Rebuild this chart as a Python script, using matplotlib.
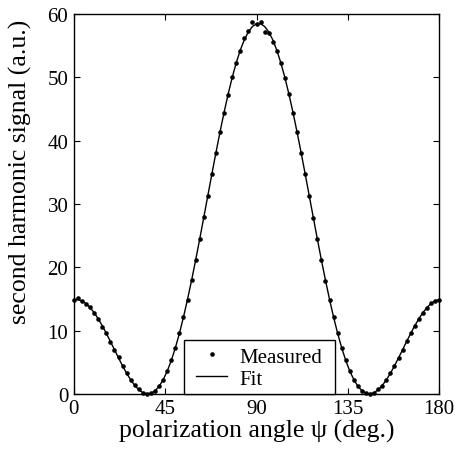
import matplotlib
matplotlib.use("Agg")
import matplotlib.pyplot as plt
from matplotlib.patches import Rectangle

angle_deg = [0, 2, 4, 6, 8, 10, 12, 14, 16, 18, 20, 22, 24, 26, 28, 30, 32, 34, 36, 38,
             40, 42, 44, 46, 48, 50, 52, 54, 56, 58, 60, 62, 64, 66, 68, 70, 72, 74, 76, 78,
             80, 82, 84, 86, 88, 90, 92, 94, 96, 98, 100, 102, 104, 106, 108, 110, 112, 114,
             116, 118, 120, 122, 124, 126, 128, 130, 132, 134, 136, 138, 140, 142, 144, 146,
             148, 150, 152, 154, 156, 158, 160, 162, 164, 166, 168, 170, 172, 174, 176, 178, 180]

measured = [14.9, 15.1, 14.7, 14.2, 13.7, 12.7, 11.9, 10.6, 9.6, 8.2, 7.0, 5.8, 4.4, 3.3,
            2.2, 1.4, 0.7, 0.2, 0.05, 0.1, 0.5, 1.2, 2.2, 3.6, 5.3, 7.2, 9.6, 12.1, 14.9,
            18.0, 21.2, 24.4, 27.9, 31.2, 34.8, 38.0, 41.4, 44.4, 47.2, 50.0, 52.3, 54.1,
            56.2, 57.4, 58.7, 58.4, 58.7, 57.2, 57.0, 55.6, 54.2, 52.2, 49.9, 47.4, 44.4,
            41.3, 38.1, 34.7, 31.3, 27.8, 24.4, 21.2, 17.9, 14.9, 12.1, 9.6, 7.3, 5.3, 3.6,
            2.2, 1.2, 0.5, 0.1, 0.05, 0.2, 0.7, 1.3, 2.2, 3.3, 4.4, 5.7, 7.0, 8.3, 9.6,
            10.8, 11.9, 12.8, 13.6, 14.3, 14.7, 14.9]

fit = [14.90, 14.90, 14.68, 14.26, 13.63, 12.83, 11.86, 10.76, 9.56, 8.29, 6.98, 5.69,
       4.43, 3.26, 2.22, 1.34, 0.65, 0.20, 0.01, 0.09, 0.49, 1.19, 2.23, 3.59, 5.27, 7.26,
       9.55, 12.11, 14.92, 17.93, 21.12, 24.44, 27.85, 31.29, 34.72, 38.09, 41.34, 44.43,
       47.32, 49.95, 52.29, 54.29, 55.94, 57.19, 58.04, 58.47, 58.47, 58.04, 57.19, 55.94,
       54.29, 52.29, 49.95, 47.32, 44.43, 41.34, 38.09, 34.72, 31.29, 27.85, 24.44, 21.12,
       17.93, 14.92, 12.11, 9.55, 7.26, 5.27, 3.59, 2.23, 1.19, 0.49, 0.09, 0.01, 0.20,
       0.65, 1.34, 2.22, 3.26, 4.43, 5.69, 6.98, 8.29, 9.56, 10.76, 11.86, 12.83, 13.63,
       14.26, 14.68, 14.90]

x_ticks = [0, 45, 90, 135, 180]
y_ticks = [0, 10, 20, 30, 40, 50, 60]

plt.rcParams['font.family'] = ['Liberation Serif', 'DejaVu Serif']

fig = plt.figure(figsize=(4.56, 4.56), dpi=100)
ax = fig.add_axes([0.162, 0.134, 0.801, 0.833])

ax.plot(angle_deg, fit, '-', color='black', lw=1.0, label='Fit', zorder=2)
ax.plot(angle_deg, measured, 'o', color='black', ms=3.3, mew=0, label='Measured',
        clip_on=False, zorder=3)

ax.set_xlim(0, 180)
ax.set_ylim(0, 60)
ax.set_xticks(x_ticks)
ax.set_yticks(y_ticks)
ax.tick_params(direction='in', top=True, right=True, length=4, width=0.8,
               labelsize=15, pad=4)
for s in ax.spines.values():
    s.set_linewidth(1.0)

ax.set_xlabel('polarization angle ψ (deg.)', fontsize=18.5, labelpad=0)
ax.set_ylabel('second harmonic signal (a.u.)', fontsize=18.5)
ax.yaxis.set_label_coords(-0.115, 0.587)

# legend frame (wider than the default padding)
ax.add_patch(Rectangle((0.301, 0.0), 0.414, 0.142, transform=ax.transAxes,
                       facecolor='white', edgecolor='black', lw=1.0, zorder=4,
                       clip_on=False))

handles, labels = ax.get_legend_handles_labels()
leg = ax.legend(handles[::-1], labels[::-1], loc='lower center',
                bbox_to_anchor=(0.508, 0.0), borderaxespad=0, fontsize=15,
                frameon=False, handlelength=1.5, handletextpad=0.6,
                borderpad=0.25, labelspacing=0.12, markerscale=1.0)
leg.set_zorder(5)

fig.savefig('out.png', dpi=100)
